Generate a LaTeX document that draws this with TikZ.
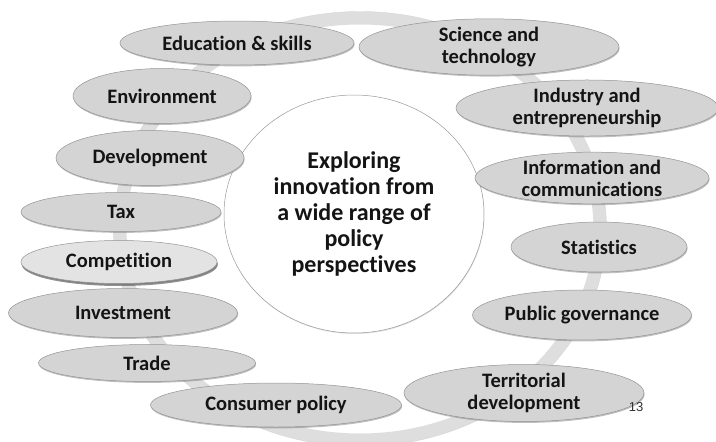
\documentclass[tikz,border=0pt]{standalone}
\usepackage{fontspec}
\setmainfont{Carlito}[Ligatures=NoCommon]
\newfontfamily\pagefont{Liberation Sans}
\usetikzlibrary{shapes.geometric,shadows}

\begin{document}
\begin{tikzpicture}[x=1pt,y=-1pt,
  topic/.style={ellipse, draw=black!42, line width=0.5pt, fill=black!17,
    inner sep=0pt, align=center, text=black!92,
    font=\fontsize{20.5}{22}\selectfont\bfseries,
    drop shadow={shadow xshift=0.6pt, shadow yshift=-1.4pt,
      fill=black!50, opacity=0.5}},
  lighttopic/.style={topic, fill=black!11,
    drop shadow={shadow xshift=0.8pt, shadow yshift=-2.5pt,
      fill=black!60, opacity=0.7}},
  hub/.style={ellipse, draw=black!40, line width=0.5pt, fill=white,
    inner sep=0pt, align=center, text=black!92,
    font=\fontsize{24}{26}\selectfont\bfseries,
    drop shadow={shadow xshift=0.5pt, shadow yshift=-1pt,
      fill=black!25, opacity=0.5}}]
  \useasboundingbox (0,0) rectangle (716,442);
  % ring behind the topics
  \draw[black!13, line width=13pt] (360,229) ellipse[x radius=240, y radius=211];
  \draw[black!17, line width=0.4pt] (360,229) ellipse[x radius=246.5, y radius=217.5];
  % centre
  \node[hub, minimum width=260pt, minimum height=238pt] (hub) at (354,214)
    {Exploring\\innovation from\\a wide range of\\policy\\perspectives};
  % left side, top to bottom
  \node[topic, minimum width=234pt, minimum height=44pt] (edu) at (237,43) {Education \& skills};
  \node[topic, minimum width=178pt, minimum height=55pt] (env) at (162,96) {Environment};
  \node[topic, minimum width=188pt, minimum height=55pt] (dev) at (150,158) {Development};
  \node[topic, minimum width=200pt, minimum height=39pt] (tax) at (121,212) {Tax};
  \node[lighttopic, minimum width=196pt, minimum height=43pt] (comp) at (119,262) {Competition};
  \node[topic, minimum width=229pt, minimum height=49pt] (inv) at (123,313) {Investment};
  \node[topic, minimum width=217pt, minimum height=37pt] (trade) at (147,363) {Trade};
  \node[topic, minimum width=251pt, minimum height=44pt] (cons) at (276,405) {Consumer policy};
  % right side, top to bottom
  \node[topic, minimum width=260pt, minimum height=48pt] (sci) at (489,47) {Science and\\technology};
  \node[topic, minimum width=262pt, minimum height=51pt] (ind) at (587,108) {Industry and\\entrepreneurship};
  \node[topic, minimum width=234pt, minimum height=50pt] (info) at (592,178) {Information and\\communications};
  \node[topic, minimum width=176pt, minimum height=50pt] (stat) at (599,247) {Statistics};
  \node[topic, minimum width=176pt, minimum height=50pt] (pub) at (582,315) {Public governance};
  \node[topic, minimum width=240pt, minimum height=57pt] (terr) at (524,393) {Territorial\\development};
  % slide number
  \node[font=\pagefont\fontsize{13}{13}\selectfont, text=black!80, inner sep=0pt] (num) at (636,407) {13};
\end{tikzpicture}
\end{document}
